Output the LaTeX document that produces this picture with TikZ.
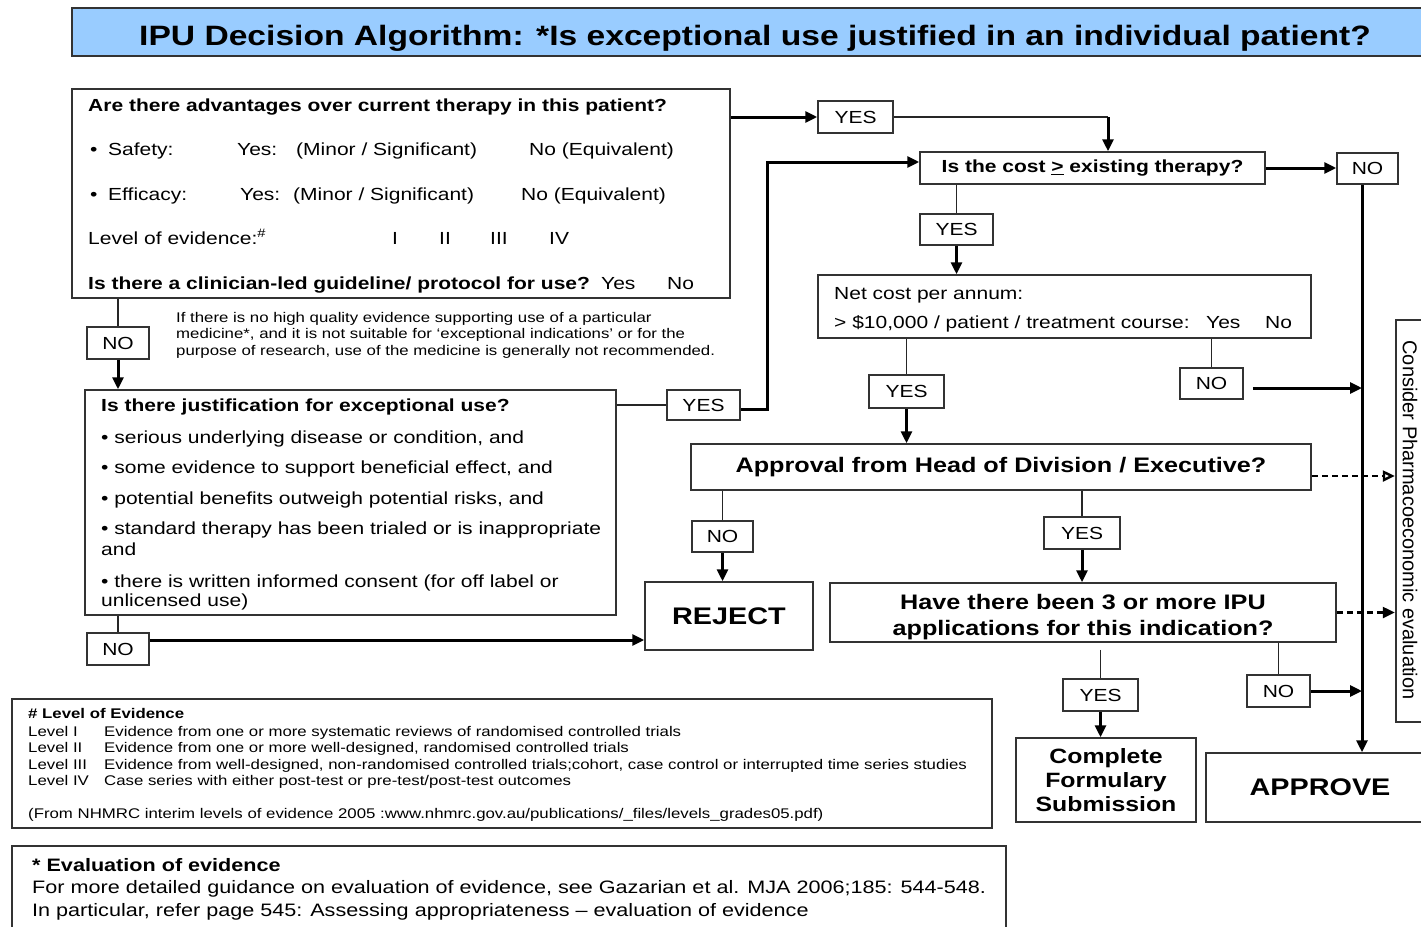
\documentclass[tikz,border=0pt]{standalone}
\usepackage{fontspec}
\setmainfont{Liberation Sans}[FakeStretch=1.2]
\newfontfamily\vfont{Liberation Sans}
\usetikzlibrary{arrows.meta,calc}
\newcommand\myfs[1]{\fontsize{#1}{#1}\selectfont}
\definecolor{titleblue}{HTML}{99CCFF}
\tikzset{
  bx/.style={draw=black!80, line width=1.5pt, inner sep=0pt, fill=white},
  lbl/.style={bx, font=\myfs{17.5}},
  txt/.style={inner sep=0pt, anchor=base west, font=\myfs{17.5}},
  ln/.style={line width=1.5pt, draw=black!85},
  arr/.style={line width=3pt, -{Triangle[length=12pt,width=11pt]}},
  dsh/.style={line width=2.4pt, dash pattern=on 6pt off 4pt},
}
\begin{document}
\begin{tikzpicture}[x=1pt,y=-1pt]
\useasboundingbox (0,0) rectangle (1421,926);
\fill[white] (0,0) rectangle (1421,926);
\clip (0,0) rectangle (1421,926);

% title
\node[bx, fill=titleblue, line width=2pt, minimum width=1368pt, minimum height=48pt] (title) at (756,32) {};
\node[inner sep=0pt, anchor=base, font=\bfseries\myfs{28}] (titletxt) at (755,45) {IPU Decision Algorithm: *Is exceptional use justified in an individual patient?};

% boxes
\node[bx, minimum width=658pt, minimum height=209pt] (boxA) at (401,193.5) {};
\node[lbl, minimum width=75pt, minimum height=32pt] (yes1) at (855.5,117) {YES};
\node[bx, minimum width=345pt, minimum height=32pt, font=\bfseries\myfs{17.5}] (cost) at (1092.5,168) {Is the cost \underline{>} existing therapy?};
\node[lbl, minimum width=61pt, minimum height=31pt] (no1) at (1367.5,168.5) {NO};
\node[lbl, minimum width=73pt, minimum height=31pt] (yes2) at (956.5,229.5) {YES};
\node[bx, minimum width=493pt, minimum height=63pt] (net) at (1064.5,306.5) {};
\node[lbl, minimum width=75pt, minimum height=33pt] (yes3) at (906.5,391.5) {YES};
\node[lbl, minimum width=63pt, minimum height=31pt] (no2) at (1211.5,383.5) {NO};
\node[bx, minimum width=620pt, minimum height=46pt, font=\bfseries\myfs{21}] (appr) at (1001,467) {Approval from Head of Division / Executive?};
\node[lbl, minimum width=61pt, minimum height=31pt] (no3) at (722.5,536.5) {NO};
\node[lbl, minimum width=76pt, minimum height=32pt] (yes4) at (1082,533) {YES};
\node[bx, minimum width=168pt, minimum height=68pt, font=\bfseries\myfs{24}] (reject) at (729,616) {REJECT};
\node[bx, minimum width=506pt, minimum height=59pt] (have) at (1083,612.5) {};
\node[inner sep=0pt, align=center, font=\bfseries\fontsize{21}{26}\selectfont] (havetxt) at (1083,617) {Have there been 3 or more IPU\\applications for this indication?};
\node[lbl, minimum width=75pt, minimum height=32pt] (yes5) at (1100.5,695) {YES};
\node[lbl, minimum width=63pt, minimum height=32pt] (no4) at (1278.5,691) {NO};
\node[bx, minimum width=180pt, minimum height=84pt, align=center, font=\bfseries\fontsize{20.7}{24}\selectfont] (complete) at (1106,780) {Complete\\Formulary\\Submission};
\node[bx, minimum width=228pt, minimum height=69pt, font=\bfseries\myfs{24}] (approve) at (1320,787.5) {APPROVE};
\node[bx, line width=2.5pt, minimum width=29pt, minimum height=402pt] (consider) at (1410.5,521) {};
\node[rotate=-90, font=\vfont\myfs{20}, inner sep=0pt] (considertxt) at (1410,520) {Consider Pharmacoeconomic evaluation};
\node[lbl, minimum width=62pt, minimum height=32pt] (no5) at (118,343) {NO};
\node[bx, minimum width=531pt, minimum height=225pt] (just) at (350.5,502.5) {};
\node[lbl, minimum width=73pt, minimum height=30pt] (yes6) at (703.5,405) {YES};
\node[lbl, minimum width=62pt, minimum height=32pt] (no6) at (118,649) {NO};
\node[bx, minimum width=980pt, minimum height=129pt] (loe) at (502,763.5) {};
\node[bx, minimum width=994pt, minimum height=94pt] (eval) at (509,893) {};

% box A text
\node[txt, font=\bfseries\myfs{17.5}] (a1) at (88,111) {Are there advantages over current therapy in this patient?};
\node[txt] (a2b) at (90,155) {\textbullet};
\node[txt] (a2) at (108,155) {Safety:};
\node[txt] (a2y) at (237,155) {Yes:};
\node[txt] (a2m) at (296,155) {(Minor / Significant)};
\node[txt] (a2n) at (529,155) {No (Equivalent)};
\node[txt] (a3b) at (90,200) {\textbullet};
\node[txt] (a3) at (108,200) {Efficacy:};
\node[txt] (a3y) at (240,200) {Yes:};
\node[txt] (a3m) at (293,200) {(Minor / Significant)};
\node[txt] (a3n) at (521,200) {No (Equivalent)};
\node[txt] (a4) at (88,244) {Level of evidence:\textsuperscript{\#}};
\node[txt] (a4a) at (392,244) {I};
\node[txt] (a4b) at (439,244) {II};
\node[txt] (a4c) at (490,244) {III};
\node[txt] (a4d) at (549,244) {IV};
\node[txt, font=\bfseries\myfs{17.5}] (a5) at (88,289) {Is there a clinician-led guideline/ protocol for use?};
\node[txt] (a5y) at (601,289) {Yes};
\node[txt] (a5n) at (667,289) {No};

% note
\node[txt, font=\myfs{14}] (nt1) at (176,322) {If there is no high quality evidence supporting use of a particular};
\node[txt, font=\myfs{14}] (nt2) at (176,338) {medicine*, and it is not suitable for `exceptional indications' or for the};
\node[txt, font=\myfs{14}] (nt3) at (176,355) {purpose of research, use of the medicine is generally not recommended.};

% justification text
\node[txt, font=\bfseries\myfs{17.5}] (j1) at (101,411) {Is there justification for exceptional use?};
\node[txt] (j2) at (101,443) {\textbullet{} serious underlying disease or condition, and};
\node[txt] (j3) at (101,473) {\textbullet{} some evidence to support beneficial effect, and};
\node[txt] (j4) at (101,504) {\textbullet{} potential benefits outweigh potential risks, and};
\node[txt] (j5) at (101,534) {\textbullet{} standard therapy has been trialed or is inappropriate};
\node[txt] (j6) at (101,555) {and};
\node[txt] (j7) at (101,587) {\textbullet{} there is written informed consent (for off label or};
\node[txt] (j8) at (101,606) {unlicensed use)};

% net cost text
\node[txt] (n1) at (834,299) {Net cost per annum:};
\node[txt] (n2) at (834,328) {> \$10,000 / patient / treatment course:};
\node[txt] (n3) at (1206,328) {Yes};
\node[txt] (n4) at (1265,328) {No};

% level of evidence
\node[txt, font=\bfseries\myfs{14}] (l0) at (28,718) {\# Level of Evidence};
\node[txt, font=\myfs{14}] (l1a) at (28,736) {Level I};
\node[txt, font=\myfs{14}] (l1b) at (104,736) {Evidence from one or more systematic reviews of randomised controlled trials};
\node[txt, font=\myfs{14}] (l2a) at (28,752) {Level II};
\node[txt, font=\myfs{14}] (l2b) at (104,752) {Evidence from one or more well-designed, randomised controlled trials};
\node[txt, font=\myfs{14}] (l3a) at (28,769) {Level III};
\node[txt, font=\myfs{14}] (l3b) at (104,769) {Evidence from well-designed, non-randomised controlled trials;cohort, case control or interrupted time series studies};
\node[txt, font=\myfs{14}] (l4a) at (28,785) {Level IV};
\node[txt, font=\myfs{14}] (l4b) at (104,785) {Case series with either post-test or pre-test/post-test outcomes};
\node[txt, font=\myfs{14}] (l5) at (28,818) {(From NHMRC interim levels of evidence 2005 :www.nhmrc.gov.au/publications/\_files/levels\_grades05.pdf)};

% evaluation
\node[txt, font=\bfseries\myfs{18}] (e0) at (32,871.5) {* Evaluation of evidence};
\node[txt, font=\myfs{18}] (e1) at (32,893.5) {For more detailed guidance on evaluation of evidence, see Gazarian et al. MJA 2006;185: 544-548.};
\node[txt, font=\myfs{18}] (e2) at (32,916.5) {In particular, refer page 545: Assessing appropriateness -- evaluation of evidence};

% connectors
\coordinate (k1) at ([xshift=15.5pt]cost.north);
\coordinate (vl) at ([xshift=-5.5pt]no1.south);
\draw[arr] (boxA.east |- yes1.west) -- (yes1.west);
\draw[ln] (yes1.east) -- (yes1.east -| k1);
\draw[arr] (yes1.east -| k1) -- (k1);
\draw[arr] (cost.east) -- (cost.east -| no1.west);
\draw[arr] (vl) -- (vl |- approve.north);
\draw[ln] (yes2.north |- cost.south) -- (yes2.north);
\draw[arr] (yes2.south) -- (yes2.south |- net.north);
\draw[ln] (yes3.north |- net.south) -- (yes3.north);
\draw[arr] (yes3.south) -- (yes3.south |- appr.north);
\draw[ln] (no2.north |- net.south) -- (no2.north);
\draw[arr] ([xshift=9pt,yshift=-4.5pt]no2.east) -- ([yshift=-4.5pt]no2.east -| vl);
\draw[dsh, -{Triangle[open,length=12pt,width=11pt]}] ([yshift=-9pt]appr.east) -- ([yshift=-9pt]appr.east -| consider.west);
\draw[ln] (no3.north |- appr.south) -- (no3.north);
\draw[arr] (no3.south) -- (no3.south |- reject.north);
\draw[ln] (yes4.north |- appr.south) -- (yes4.north);
\draw[arr] (yes4.south) -- (yes4.south |- have.north);
\draw[dsh, -{Triangle[length=12pt,width=11pt]}] (have.east) -- (have.east -| consider.west);
\draw[ln] ([yshift=-7pt]yes5.north |- have.south) -- (yes5.north);
\draw[arr] (yes5.south) -- (yes5.south |- complete.north);
\draw[ln] (no4.north |- have.south) -- (no4.north);
\draw[arr] (no4.east) -- (no4.east -| vl);
\draw[ln] (no5.north |- boxA.south) -- (no5.north);
\draw[arr] (no5.south) -- (no5.south |- just.north);
\draw[ln] (yes6.west -| just.east) -- (yes6.west);
\draw[arr] ([yshift=-4pt]yes6.east) -- ++(27pt,0) |- ([yshift=6pt]cost.west);
\draw[ln] (no6.north |- just.south) -- (no6.north);
\draw[arr] ([yshift=9pt]no6.east) -- ([yshift=9pt]no6.east -| reject.west);
\end{tikzpicture}
\end{document}
